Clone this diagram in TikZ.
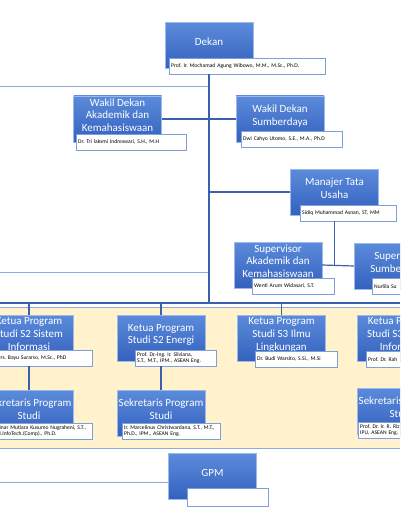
\documentclass[tikz,border=0pt]{standalone}
\usepackage{fontspec}
\setmainfont{Carlito}
\frenchspacing
\definecolor{boxtop}{HTML}{5B8BDB}
\definecolor{boxbottom}{HTML}{3461BE}
\definecolor{boxline}{HTML}{9DB9EA}
\definecolor{namaline}{HTML}{7F9FDB}
\definecolor{lineblue}{HTML}{3A60AE}
\definecolor{lightline}{HTML}{8FAADC}
\definecolor{krem}{HTML}{FFF2CC}
\begin{document}
\begin{tikzpicture}[
x=1pt,y=-1pt,
jabatan/.style={
draw=boxline,
top color=boxtop,
bottom color=boxbottom,
text=white,
align=center,
minimum width=88pt,
minimum height=46pt,
inner sep=1pt,
text depth=8pt,
font=\fontsize{11}{12.7}\selectfont
},
nama/.style={
draw=namaline,
fill=white,
anchor=north west,
align=left,
minimum height=16pt,
inner xsep=2pt,
inner ysep=1pt,
font=\fontsize{5.6}{6.4}\selectfont
},
garis/.style={draw=lineblue, line width=1.2pt},
garistipis/.style={draw=lightline, line width=0.9pt}
]

\useasboundingbox (0,0) rectangle (400,516);
\clip (0,0) rectangle (400,516);

% area program studi
\fill[krem, draw=lightline] (-1,307) rectangle (401,448);

\node[jabatan] (dekan)
at (209,45.5)
{Dekan};
\node[nama, text width=152pt] (dekannama)
at (169,58)
{Prof. Ir. Mochamad Agung Wibowo, M.M., M.Sc., Ph.D.};

\node[jabatan] (wdak)
at (117.5,119)
{Wakil Dekan\\Akademik dan\\Kemahasiswaan};
\node[nama, text width=106pt] (wdaknama)
at (76,134)
{Dr. Tri laksmi Indreswari, S.H., M.H};

\node[jabatan] (wdsd)
at (280,119)
{Wakil Dekan\\Sumberdaya};
\node[nama, text width=97pt] (wdsdnama)
at (241,131)
{Dwi Cahyo Utomo, S.E., M.A., Ph.D};

\node[jabatan] (mtu)
at (334.5,192)
{Manajer Tata\\Usaha};
\node[nama, text width=92pt] (mtunama)
at (300,205)
{Sidiq Muhammad Asnan, ST, MM};

\node[jabatan] (spak)
at (278,265)
{Supervisor\\Akademik dan\\Kemahasiswaan};
\node[nama, text width=78pt] (spaknama)
at (252,278)
{Wenti Arum Widasari, S.T.};

\node[jabatan] (spsd)
at (398,266)
{Supervisor\\Sumberdaya};
\node[nama, text width=60pt] (spsdnama)
at (372,278)
{Nurlila Su};

\node[jabatan] (k2si)
at (29,338)
{Ketua Program\\Studi S2 Sistem\\Informasi};
\node[nama, text width=93pt] (k2sinama)
at (-5,350)
{Drs. Bayu Surarso, M.Sc., PhD};

\node[jabatan] (k2en)
at (161,338)
{Ketua Program\\Studi S2 Energi};
\node[nama, text width=77pt] (k2ennama)
at (135,350)
{Prof. Dr.-Ing. Ir. Silviana,\\S.T., M.T., IPM., ASEAN Eng.};

\node[jabatan] (k3il)
at (281.5,338)
{Ketua Program\\Studi S3 Ilmu\\Lingkungan};
\node[nama, text width=78pt] (k3ilnama)
at (255,351)
{Dr. Budi Warsito, S.Si., M.Si};

\node[jabatan] (k3si)
at (401,338)
{Ketua Program\\Studi S3 Sistem\\Informasi};
\node[nama, text width=60pt] (k3sinama)
at (366,351)
{Prof. Dr. Rah};

\node[jabatan] (sek2si)
at (29,413)
{Sekretaris Program\\Studi};
\node[nama, text width=94pt] (sek2sinama)
at (-6,423)
{Dinar Mutiara Kusumo Nugraheni, S.T.,\\M.InfoTech.(Comp)., Ph.D.};

\node[jabatan] (sek2en)
at (161,413)
{Sekretaris Program\\Studi};
\node[nama, text width=94pt] (sek2ennama)
at (122,423)
{Ir. Marcelinus Christwardana, S.T., M.T.,\\Ph.D., IPM., ASEAN Eng.};

\node[jabatan] (sek3si)
at (401,411)
{Sekretaris Program\\Studi};
\node[nama, text width=60pt] (sek3sinama)
at (358,422)
{Prof. Dr. Ir. R. Riz\\IPU, ASEAN Eng.};

\node[jabatan] (gpm)
at (212.5,476.5)
{GPM};
\node[nama, minimum width=81pt, minimum height=18pt] (gpmnama)
at (187,488)
{};

% garis ke kiri
\coordinate (kiri1) at (0,86);
\coordinate (kiri2) at (0,272);
\coordinate (kiri3) at (0,482);
\draw[garistipis] (kiri1) -- (dekan.south |- kiri1);
\draw[garistipis] (kiri2) -- (dekan.south |- kiri2);
\draw[garistipis] (kiri3) -- (gpm.west |- kiri3);

% garis utama
\coordinate (busL) at (0,303);
\coordinate (busR) at (400,303);
\draw[garis] (dekan.south |- dekannama.south) -- (dekan.south |- busL);
\draw[garis] (wdak.east) -- (dekan.south |- wdak.east);
\draw[garis] (wdsd.west) -- (dekan.south |- wdsd.west);
\draw[garis] (mtu.west) -- (dekan.south |- mtu.west);
\draw[garis] (mtu.south |- mtunama.south) -- (mtu.south |- spak.east);
\draw[garis] (spak.east) -- (spsd.west);
\draw[garis] (busL) -- (busR);
\draw[garis] (k2si.north |- busL) -- (k2si.north);
\draw[garis] (k2en.north |- busL) -- (k2en.north);
\draw[garis] (k3il.north |- busL) -- (k3il.north);
\draw[garis] (k2si.south |- k2sinama.south) -- (sek2si.north);
\draw[garis] (k2en.south |- k2ennama.south) -- (sek2en.north);

\end{tikzpicture}
\end{document}
